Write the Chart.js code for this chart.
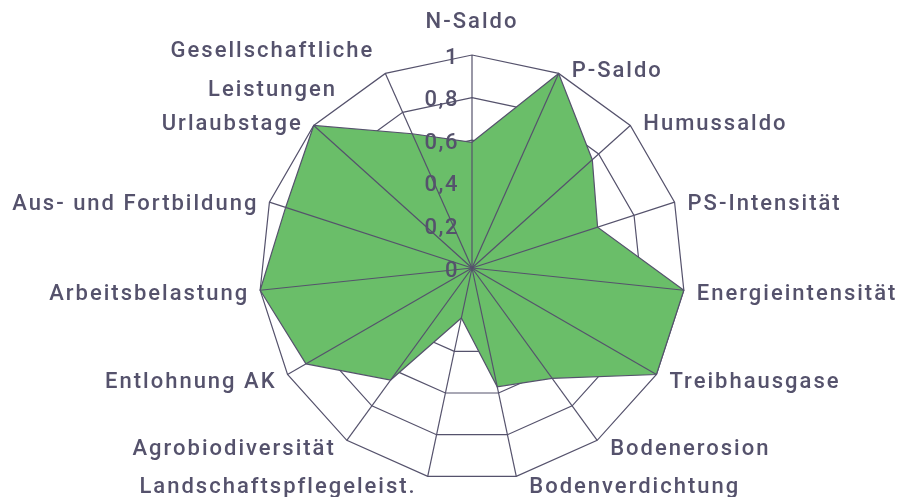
<!DOCTYPE html>
<html>
<head>
<meta charset="utf-8">
<script src="https://cdn.jsdelivr.net/npm/chart.js@4.4.0/dist/chart.umd.min.js"></script>
<style>
  body { margin: 0; background: #fff; }
  canvas { display: block; }
</style>
</head>
<body>
<canvas id="canvas" width="897" height="497"></canvas>
<script>
// categories clockwise from the top
var categories = ['N-Saldo', 'P-Saldo', 'Humussaldo', 'PS-Intensität', 'Energieintensität',
  'Treibhausgase', 'Bodenerosion', 'Bodenverdichtung', 'Landschaftspflegeleist.',
  'Agrobiodiversität', 'Entlohnung AK', 'Arbeitsbelastung', 'Aus- und Fortbildung',
  'Urlaubstage', ['Gesellschaftliche', 'Leistungen']];
var values = [0.59, 1, 0.76, 0.62, 1, 1, 0.64, 0.57, 0.24, 0.65, 0.9, 1, 0.92, 1, 0.69];
var tickLabels = ['0', '0,2', '0,4', '0,6', '0,8', '1'];

var inkColor = '#55526c';
var lineColor = '#55526c';
var fillColor = '#6abe69';

// spokes + tick labels go over the green area, rings stay under it
var overlay = {
  id: 'overlay',
  afterDatasetsDraw: function(chart) {
    var r = chart.scales.r;
    var ctx = chart.ctx;
    ctx.save();
    ctx.strokeStyle = lineColor;
    ctx.lineWidth = 1.2;
    for (var i = 0; i < categories.length; i++) {
      var p = r.getPointPositionForValue(i, r.max);
      ctx.beginPath();
      ctx.moveTo(r.xCenter, r.yCenter);
      ctx.lineTo(p.x, p.y);
      ctx.stroke();
    }
    ctx.fillStyle = inkColor;
    ctx.font = '500 22px Roboto';
    ctx.letterSpacing = '1.5px';
    ctx.textAlign = 'right';
    ctx.textBaseline = 'middle';
    r.ticks.forEach(function(t, k) {
      var y = r.yCenter - r.getDistanceFromCenterForValue(t.value);
      ctx.fillText(tickLabels[k], r.xCenter - 13, y + 3);
    });
    ctx.restore();
  },
  afterDraw: function(chart) {
    var r = chart.scales.r;
    var ctx = chart.ctx;
    var lh = 39;
    ctx.save();
    ctx.fillStyle = inkColor;
    ctx.font = '500 22px Roboto';
    ctx.letterSpacing = '2px';
    ctx.textBaseline = 'middle';
    ctx.textAlign = 'center';
    for (var i = 0; i < categories.length; i++) {
      var lines = [].concat(categories[i]);
      var a = i * 2 * Math.PI / categories.length;
      var s = Math.sin(a), c = Math.cos(a);
      var p = r.getPointPositionForValue(i, r.max);
      var w = 0;
      lines.forEach(function(l) { w = Math.max(w, ctx.measureText(l).width); });
      var cx, cy;
      if (Math.abs(s) < 0.01) {
        cx = p.x;
        cy = p.y - 33;
      } else if (s > 0) {
        cx = p.x + 13 + w / 2;
        cy = p.y + 4 - 7 * c;
      } else {
        cx = p.x - 11 - w / 2;
        cy = p.y + 4 - 7 * c;
      }
      var y0 = cy - (lines.length - 1) * lh / 2;
      lines.forEach(function(l, k) {
        ctx.fillText(l, cx, y0 + k * lh);
      });
    }
    ctx.restore();
  }
};

window.onload = function() {
  var ctx = document.getElementById('canvas').getContext('2d');
  window.myRadar = new Chart(ctx, {
    type: 'radar',
    data: {
      labels: categories,
      datasets: [{
        data: values,
        backgroundColor: fillColor,
        borderColor: lineColor,
        borderWidth: 1.2,
        pointRadius: 0,
        fill: true
      }]
    },
    options: {
      responsive: false,
      animation: false,
      layout: { padding: { left: 259, right: 212, top: 55, bottom: 16 } },
      plugins: { legend: { display: false }, tooltip: { enabled: false } },
      scales: {
        r: {
          min: 0,
          max: 1,
          ticks: { stepSize: 0.2, display: false },
          grid: { color: lineColor, lineWidth: 1.2 },
          angleLines: { display: false },
          pointLabels: { display: false }
        }
      }
    },
    plugins: [overlay]
  });
};
</script>
</body>
</html>
